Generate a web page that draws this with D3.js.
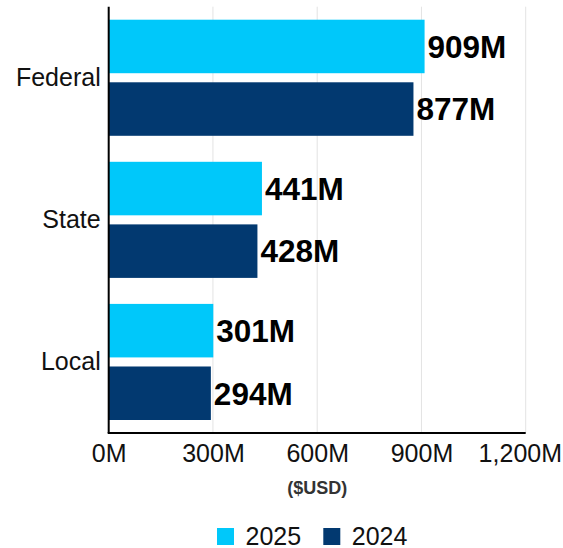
<!DOCTYPE html>
<html>
<head>
<meta charset="utf-8">
<script src="https://cdn.jsdelivr.net/npm/d3@7"></script>
<style>
  html, body { margin: 0; padding: 0; background: #fff; }
  svg { display: block; font-family: "Liberation Sans", Arial, Helvetica, sans-serif; }
</style>
</head>
<body>
<svg id="chart" width="563" height="548"></svg>
<script>
const categories = ["Federal", "State", "Local"];
const seriesNames = ["2025", "2024"];
const values2025 = [909, 441, 301];
const values2024 = [877, 428, 294];
const xTicks = [0, 300, 600, 900, 1200];
const colors = ["#00C8FA", "#023970"];
const axisTitle = "($USD)";

const series = [values2025, values2024];
const data = categories.map((c, i) => ({
  category: c,
  values: seriesNames.map((s, j) => ({ series: s, value: series[j][i], color: colors[j] }))
}));

const svg = d3.select("#chart");
const mLeft = 108.7, mRight = 525.7, mTop = 6.7, mBottom = 433;
const W = 563;

const x = d3.scaleLinear().domain([0, 1200]).range([mLeft, mRight]);
const y = d3.scaleBand().domain(categories).range([mTop, mBottom])
  .paddingInner(0.183).paddingOuter(0.0915);
const yInner = d3.scaleBand().domain(seriesNames).range([0, y.bandwidth()])
  .paddingInner(0.145).paddingOuter(0);

// gridlines
svg.append("g").selectAll("line")
  .data(xTicks.filter(d => d > 0))
  .join("line")
  .attr("x1", d => x(d)).attr("x2", d => x(d))
  .attr("y1", mTop).attr("y2", mBottom)
  .attr("stroke", "#e3e3e3").attr("stroke-width", 1);

// bars
const groups = svg.append("g").selectAll("g")
  .data(data).join("g")
  .attr("transform", d => `translate(0,${y(d.category)})`);

groups.selectAll("rect")
  .data(d => d.values).join("rect")
  .attr("x", x(0))
  .attr("y", d => yInner(d.series))
  .attr("width", d => x(d.value) - x(0))
  .attr("height", yInner.bandwidth())
  .attr("fill", d => d.color);

groups.selectAll("text.val")
  .data(d => d.values).join("text")
  .attr("class", "val")
  .attr("x", d => x(d.value) + 3)
  .attr("y", d => yInner(d.series) + yInner.bandwidth() / 2)
  .attr("dy", "0.36em")
  .attr("font-size", 31.5)
  .attr("font-weight", "bold")
  .attr("fill", "#000")
  .text(d => d3.format(",")(d.value) + "M");

// y axis
const yAxis = svg.append("g")
  .attr("transform", `translate(${mLeft},0)`)
  .call(d3.axisLeft(y).tickSize(0).tickPadding(8));
yAxis.select(".domain").attr("stroke", "#000").attr("stroke-width", 2)
  .attr("d", `M0,${mTop}V${mBottom}`);
yAxis.selectAll("text").attr("font-size", 25).attr("fill", "#111")
  .attr("font-family", "\"Liberation Sans\", Arial, sans-serif");

// x axis
const xAxis = svg.append("g")
  .attr("transform", `translate(0,${mBottom})`)
  .call(d3.axisBottom(x).tickValues(xTicks).tickSize(0).tickPadding(11)
    .tickFormat(d => d3.format(",")(d) + "M"));
xAxis.select(".domain").attr("stroke", "#000").attr("stroke-width", 2)
  .attr("d", `M${mLeft - 1},0H${mRight}`);
xAxis.selectAll("text").attr("font-size", 25).attr("fill", "#111")
  .attr("font-family", "\"Liberation Sans\", Arial, sans-serif");
// keep last tick label inside the canvas (as in the reference)
xAxis.selectAll(".tick").filter(d => d === xTicks[xTicks.length - 1]).select("text")
  .attr("text-anchor", "end")
  .attr("x", (W - 1.5) - x(xTicks[xTicks.length - 1]));

// axis title
svg.append("text")
  .attr("x", (mLeft + mRight) / 2)
  .attr("y", 494)
  .attr("text-anchor", "middle")
  .attr("font-size", 18)
  .attr("font-weight", "bold")
  .attr("fill", "#333")
  .text(axisTitle);

// legend
const legendItems = [
  { name: seriesNames[0], color: colors[0], x: 217 },
  { name: seriesNames[1], color: colors[1], x: 323.3 }
];
const lg = svg.append("g").selectAll("g").data(legendItems).join("g")
  .attr("transform", d => `translate(${d.x},528)`);
lg.append("rect").attr("width", 17).attr("height", 17).attr("fill", d => d.color);
lg.append("text").attr("x", 28.5).attr("y", 17)
  .attr("font-size", 25).attr("fill", "#111").text(d => d.name);
</script>
</body>
</html>
